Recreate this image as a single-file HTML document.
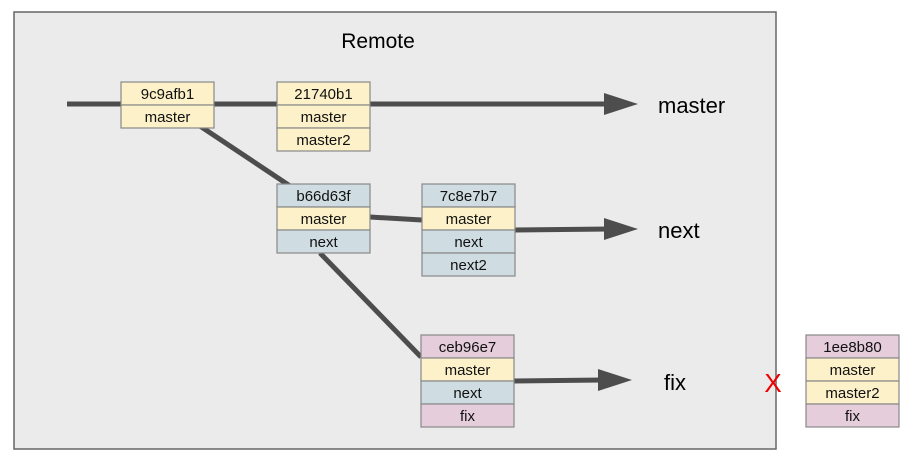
<!DOCTYPE html>
<html><head><style>
body{margin:0;width:915px;height:466px;background:#fff;overflow:hidden;font-family:"Liberation Sans",Arial,sans-serif;}
</style></head><body>
<svg width="915" height="466" xmlns="http://www.w3.org/2000/svg" font-family="Liberation Sans, Arial, sans-serif">
<rect x="14" y="12" width="762" height="437" fill="#ebebeb" stroke="#666" stroke-width="1.5"/>
<text x="378" y="48" font-size="21" text-anchor="middle" fill="#000">Remote</text>
<g stroke="#4d4d4d" stroke-width="5" fill="none">
<line x1="67" y1="104" x2="610" y2="104"/>
<line x1="200" y1="126" x2="290" y2="186"/>
<line x1="370" y1="217" x2="422" y2="220"/>
<line x1="515" y1="230" x2="610" y2="229"/>
<line x1="320" y1="253" x2="421" y2="357"/>
<line x1="514" y1="381" x2="603" y2="380"/>
</g>
<g fill="#4d4d4d">
<polygon points="604,93 638,104 604,115"/>
<polygon points="604,218 638,229 604,240"/>
<polygon points="598,369 632,380 598,391"/>
</g>
<g font-size="22" fill="#000">
<text x="658" y="113">master</text>
<text x="658" y="238">next</text>
<text x="664" y="390">fix</text>
</g>
<text x="773" y="392" font-size="26" fill="#e00" text-anchor="middle">X</text>
<g stroke="#888" stroke-width="1.2" font-size="15" text-anchor="middle">
<rect x="121" y="82" width="93" height="23" fill="#fdf1c9"/><rect x="121" y="105" width="93" height="23" fill="#fdf1c9"/>
<rect x="277" y="82" width="93" height="23" fill="#fdf1c9"/><rect x="277" y="105" width="93" height="23" fill="#fdf1c9"/><rect x="277" y="128" width="93" height="23" fill="#fdf1c9"/>
<rect x="277" y="184" width="93" height="23" fill="#cfdde2"/><rect x="277" y="207" width="93" height="23" fill="#fdf1c9"/><rect x="277" y="230" width="93" height="23" fill="#cfdde2"/>
<rect x="422" y="184" width="93" height="23" fill="#cfdde2"/><rect x="422" y="207" width="93" height="23" fill="#fdf1c9"/><rect x="422" y="230" width="93" height="23" fill="#cfdde2"/><rect x="422" y="253" width="93" height="23" fill="#cfdde2"/>
<rect x="421" y="335" width="93" height="23" fill="#e5cddb"/><rect x="421" y="358" width="93" height="23" fill="#fdf1c9"/><rect x="421" y="381" width="93" height="23" fill="#cfdde2"/><rect x="421" y="404" width="93" height="23" fill="#e5cddb"/>
<rect x="806" y="335" width="93" height="23" fill="#e5cddb"/><rect x="806" y="358" width="93" height="23" fill="#fdf1c9"/><rect x="806" y="381" width="93" height="23" fill="#fdf1c9"/><rect x="806" y="404" width="93" height="23" fill="#e5cddb"/>
</g>
<g font-size="15" text-anchor="middle" fill="#111">
<text x="167.5" y="99">9c9afb1</text><text x="167.5" y="122">master</text>
<text x="323.5" y="99">21740b1</text><text x="323.5" y="122">master</text><text x="323.5" y="145">master2</text>
<text x="323.5" y="201">b66d63f</text><text x="323.5" y="224">master</text><text x="323.5" y="247">next</text>
<text x="468.5" y="201">7c8e7b7</text><text x="468.5" y="224">master</text><text x="468.5" y="247">next</text><text x="468.5" y="270">next2</text>
<text x="467.5" y="352">ceb96e7</text><text x="467.5" y="375">master</text><text x="467.5" y="398">next</text><text x="467.5" y="421">fix</text>
<text x="852.5" y="352">1ee8b80</text><text x="852.5" y="375">master</text><text x="852.5" y="398">master2</text><text x="852.5" y="421">fix</text>
</g>
</svg>
</body></html>
